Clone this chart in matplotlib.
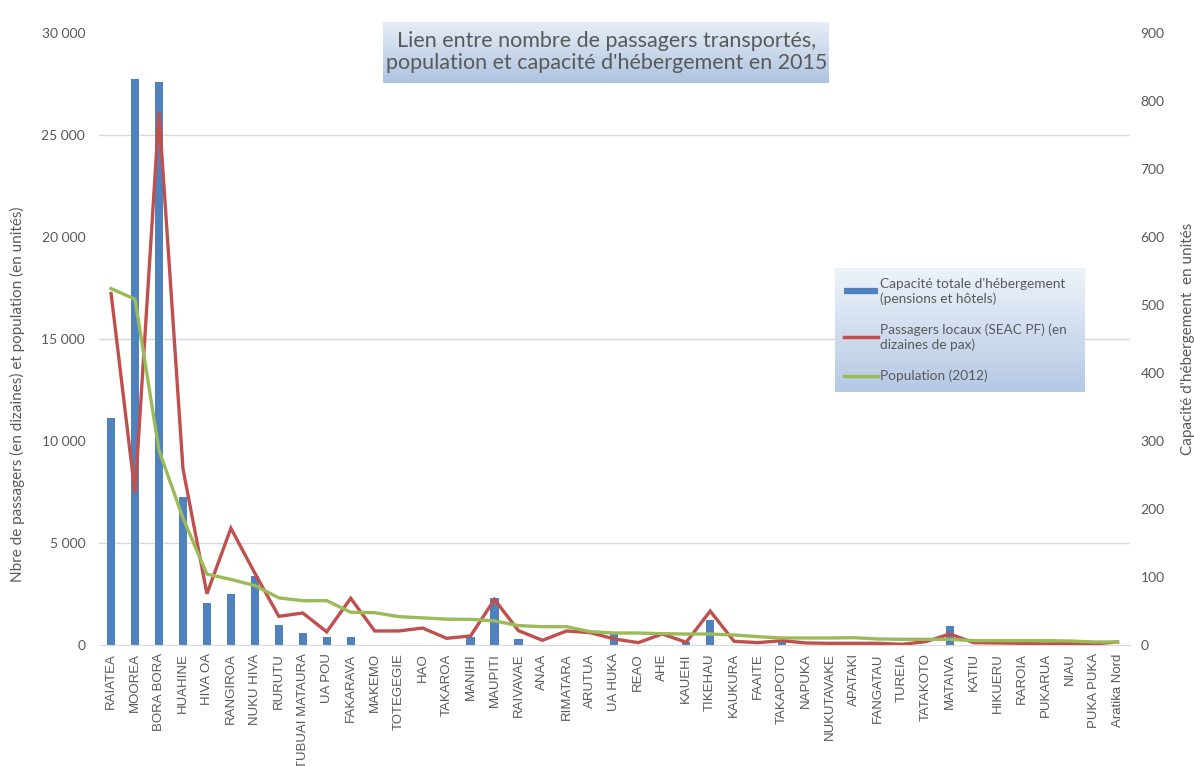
import numpy as np
import matplotlib
matplotlib.use("Agg")
import matplotlib.pyplot as plt
from matplotlib.lines import Line2D
from matplotlib.ticker import MultipleLocator, FuncFormatter

# --- Data ---
iles = [
    "RAIATEA", "MOOREA", "BORA BORA", "HUAHINE", "HIVA OA", "RANGIROA",
    "NUKU HIVA", "RURUTU", "TUBUAI MATAURA", "UA POU", "FAKARAVA", "MAKEMO",
    "TOTEGEGIE", "HAO", "TAKAROA", "MANIHI", "MAUPITI", "RAIVAVAE", "ANAA",
    "RIMATARA", "ARUTUA", "UA HUKA", "REAO", "AHE", "KAUEHI", "TIKEHAU",
    "KAUKURA", "FAAITE", "TAKAPOTO", "NAPUKA", "NUKUTAVAKE", "APATAKI",
    "FANGATAU", "TUREIA", "TATAKOTO", "MATAIVA", "KATIU", "HIKUERU",
    "RAROIA", "PUKARUA", "NIAU", "PUKA PUKA", "Aratika Nord",
]

capacite = [
    334, 832, 828, 218, 61, 75, 101, 29, 18, 11, 11, 0,
    0, 0, 0, 11, 69, 9, 0, 0, 0, 16, 0, 0, 5, 37,
    0, 0, 7, 0, 0, 0, 0, 0, 0, 28, 0, 0, 0, 0, 0, 0, 0,
]

passagers = [
    17229, 7430, 26104, 8635, 2510, 5723, 3514, 1405, 1566, 643, 2289, 686,
    686, 830, 327, 441, 2230, 702, 228, 684, 603, 293, 114, 537, 130, 1661,
    179, 114, 212, 98, 81, 81, 81, 33, 163, 537, 114, 98, 81, 49, 81, 49, 147,
]

population = [
    17470, 16948, 9538, 6225, 3474, 3213, 2912, 2309, 2169, 2173, 1601, 1585,
    1389, 1330, 1265, 1256, 1180, 950, 896, 896, 651, 586, 586, 554, 537, 537,
    489, 407, 342, 342, 342, 358, 293, 277, 277, 277, 212, 212, 212, 212, 195,
    147, 147,
]

# --- Style ---
TXT = "#595959"
GRID = "#d9d9d9"
BLUE = "#4f81bd"
RED = "#c0504d"
GREEN = "#9bbb59"
plt.rcParams["font.family"] = ["Lato", "DejaVu Sans"]

fig = plt.figure(figsize=(11.94, 7.66), dpi=100)
fig.patch.set_facecolor("white")

ax = fig.add_axes([0.083, 0.158, 0.863, 0.799])
ax2 = ax.twinx()

x = np.arange(len(iles))

# bars on the right axis, drawn below the lines
ax2.bar(x, capacite, width=0.34, color=BLUE, zorder=3)
ax2.set_ylim(0, 900)
ax2.yaxis.set_major_locator(MultipleLocator(100))
ax2.yaxis.set_minor_locator(MultipleLocator(150))
ax2.grid(True, which="minor", axis="y", color=GRID, lw=1, zorder=0)
ax2.tick_params(axis="y", which="both", length=0, labelsize=10, labelcolor=TXT, pad=8)
ax2.set_ylabel("Capacité d'hébergement  en unités", fontsize=11, color=TXT,
               labelpad=12)

# lines on the left axis
ax.set_zorder(ax2.get_zorder() + 1)
ax.patch.set_visible(False)
ax.plot(x, passagers, color=RED, lw=2.4, zorder=4, solid_joinstyle="miter")
ax.plot(x, population, color=GREEN, lw=2.4, zorder=5, solid_joinstyle="miter")
ax.set_ylim(0, 30000)
ax.set_xlim(-0.5, len(iles) - 0.5)
ax.yaxis.set_major_locator(MultipleLocator(5000))
ax.yaxis.set_major_formatter(FuncFormatter(lambda v, p: f"{int(v):,}".replace(",", " ")))
ax.tick_params(axis="y", length=0, labelsize=10, labelcolor=TXT, pad=10)
ax.set_ylabel("Nbre de passagers (en dizaines) et population (en unités)",
              fontsize=11, color=TXT)
ax.yaxis.set_label_coords(-0.072, 0.41)

ax.set_xticks(x)
ax.set_xticklabels(iles, rotation=90, family=["Liberation Sans"], fontsize=9.5,
                   color=TXT)
ax.tick_params(axis="x", length=0, pad=6)

for a in (ax, ax2):
    for s in ("top", "left", "right"):
        a.spines[s].set_visible(False)
    a.spines["bottom"].set_color(GRID)
ax2.spines["bottom"].set_visible(False)


def gradient_box(rect, top, bottom):
    bx = fig.add_axes(rect)
    c1 = np.array(matplotlib.colors.to_rgb(top))
    c2 = np.array(matplotlib.colors.to_rgb(bottom))
    t = np.linspace(0, 1, 64)[:, None, None]
    img = c1 * (1 - t) + c2 * t
    bx.imshow(img, aspect="auto", extent=(0, 1, 0, 1), interpolation="bilinear")
    bx.set_xlim(0, 1)
    bx.set_ylim(0, 1)
    bx.axis("off")
    bx.set_zorder(10)
    return bx


# title box
tb = gradient_box([0.321, 0.892, 0.3735, 0.0796], "#e6edf7", "#aec4e0")
tb.text(0.5, 0.5, "Lien entre nombre de passagers transportés,\n"
        "population et capacité d'hébergement en 2015",
        ha="center", va="center", fontsize=15.5, color=TXT, linespacing=1.15)

# legend box
lb = gradient_box([0.699, 0.488, 0.209, 0.162], "#eef3fa", "#b5c9e4")
handles = [
    Line2D([], [], color=BLUE, lw=4.5, solid_capstyle="butt"),
    Line2D([], [], color=RED, lw=2.5),
    Line2D([], [], color=GREEN, lw=2.5),
]
labels = [
    "Capacité totale d'hébergement\n(pensions et hôtels)",
    "Passagers locaux (SEAC PF) (en\ndizaines de pax)",
    "Population (2012)",
]
lb.legend(handles, labels, loc="center left", bbox_to_anchor=(0.0, 0.5),
          frameon=False, fontsize=9.8, labelcolor=TXT, handlelength=2.5,
          handletextpad=0.15, labelspacing=1.4, borderaxespad=0.3)

fig.savefig("out.png", dpi=100, facecolor="white")
